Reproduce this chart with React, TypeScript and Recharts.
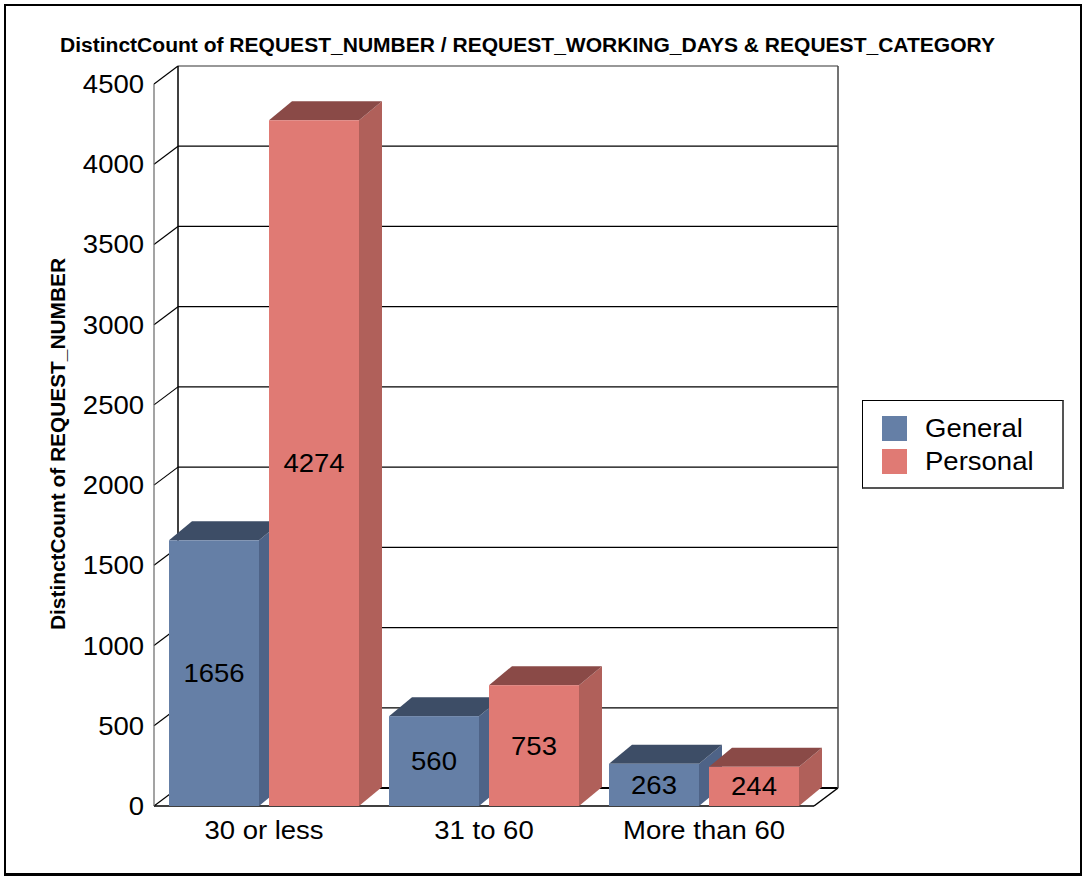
import React from 'react';
import { BarChart, Bar, XAxis, YAxis, CartesianGrid, LabelList, Legend } from 'recharts';

const categories = ['30 or less', '31 to 60', 'More than 60'];
const generalValues = [1656, 560, 263];
const personalValues = [4274, 753, 244];
const yTicks = [0, 500, 1000, 1500, 2000, 2500, 3000, 3500, 4000, 4500];
const seriesNames = ['General', 'Personal'];
const chartTitle = 'DistinctCount of REQUEST_NUMBER / REQUEST_WORKING_DAYS & REQUEST_CATEGORY';
const yAxisTitle = 'DistinctCount of REQUEST_NUMBER';

const data = categories.map((c, i) => ({
  category: c,
  [seriesNames[0]]: generalValues[i],
  [seriesNames[1]]: personalValues[i],
}));

const FONT = '"Liberation Sans", Arial, Helvetica, sans-serif';
const STRETCH = 1.1;
const WALL_DX = 24;
const WALL_DY = 18;
const BAR_DX = 23;
const BAR_DY = 19;

const palette = {
  General: { front: '#657FA6', top: '#3D4D66', side: '#4E6387' },
  Personal: { front: '#E07A74', top: '#8A4A47', side: '#B0605A' },
};

const SText = ({ x, y, anchor, size, children }: any) => (
  <text
    transform={`translate(${x},${y}) scale(${STRETCH},1)`}
    textAnchor={anchor}
    fontSize={size}
    fontFamily={FONT}
    fill="#000"
  >
    {children}
  </text>
);

const makeBox = (colors: { front: string; top: string; side: string }) => (p: any) => {
  const { x, y, width, height } = p;
  if (width == null || height == null) return <g />;
  const dx = BAR_DX;
  const dy = BAR_DY;
  const topPts = `${x},${y} ${x + dx},${y - dy} ${x + width + dx},${y - dy} ${x + width},${y}`;
  const sidePts = `${x + width},${y} ${x + width + dx},${y - dy} ${x + width + dx},${y + height - dy} ${x + width},${y + height}`;
  return (
    <g>
      <polygon points={sidePts} fill={colors.side} />
      <polygon points={topPts} fill={colors.top} />
      <rect x={x} y={y} width={width} height={height} fill={colors.front} />
    </g>
  );
};

const BarValueLabel = (p: any) => {
  const { x, y, width, height, value } = p;
  if (x == null || width == null) return null;
  return (
    <SText x={x + width / 2} y={y + height / 2 + 9} anchor="middle" size={25}>
      {value}
    </SText>
  );
};

const gridLine = (p: any) => {
  const { x1, y1, x2, y, height } = p;
  const bottom = y + height;
  const isTop = Math.abs(y1 - y) < 0.5;
  const isBottom = Math.abs(y1 - bottom) < 0.5;
  return (
    <g key={p.key}>
      <line x1={x1 + WALL_DX} y1={y1 - WALL_DY} x2={x2 + WALL_DX} y2={y1 - WALL_DY} stroke={isTop ? '#333' : '#000'} strokeWidth={1.2} />
      <line x1={x1} y1={y1} x2={x1 + WALL_DX} y2={y1 - WALL_DY} stroke="#000" strokeWidth={1.2} />
      {isTop && (
        <g>
          <line x1={x1} y1={y1} x2={x1} y2={bottom} stroke="#666" strokeWidth={1.2} />
          <line x1={x1 + WALL_DX} y1={y1 - WALL_DY} x2={x1 + WALL_DX} y2={bottom - WALL_DY} stroke="#000" strokeWidth={1.5} />
          <line x1={x2 + WALL_DX} y1={y1 - WALL_DY} x2={x2 + WALL_DX} y2={bottom - WALL_DY} stroke="#444" strokeWidth={1.5} />
        </g>
      )}
      {isBottom && (
        <g>
          <line x1={x1} y1={y1} x2={x2} y2={y1} stroke="#000" strokeWidth={1.5} />
          <line x1={x2} y1={y1} x2={x2 + WALL_DX} y2={y1 - WALL_DY} stroke="#000" strokeWidth={1.5} />
          <line x1={x1 + WALL_DX} y1={y1 - WALL_DY} x2={x2 + WALL_DX} y2={y1 - WALL_DY} stroke="#000" strokeWidth={2} />
        </g>
      )}
    </g>
  );
};

const YTick = (p: any) => (
  <SText x={p.x} y={p.y + 9} anchor="end" size={25}>
    {p.payload.value}
  </SText>
);

const XTick = (p: any) => (
  <SText x={p.x} y={p.y + 33} anchor="middle" size={25}>
    {p.payload.value}
  </SText>
);

const LegendBox = (props: any) => {
  const payload = props.payload && props.payload.length
    ? props.payload
    : seriesNames.map((n) => ({ value: n, color: (palette as any)[n].front }));
  return (
    <div
      style={{
        position: 'relative',
        width: 202,
        height: 89,
        boxSizing: 'border-box',
        border: '1px solid #000',
        borderRight: '2px solid #555',
        borderBottom: '2px solid #555',
        background: '#fff',
        fontFamily: FONT,
      }}
    >
      {payload.map((e: any, i: number) => (
        <div key={e.value}>
          <div style={{ position: 'absolute', left: 19, top: 15 + i * 33, width: 25, height: 25, background: e.color }} />
          <div
            style={{
              position: 'absolute',
              left: 62,
              top: 12 + i * 33,
              fontSize: 25,
              lineHeight: '30px',
              color: '#000',
              whiteSpace: 'nowrap',
              transform: `scaleX(${STRETCH})`,
              transformOrigin: 'left center',
            }}
          >
            {e.value}
          </div>
        </div>
      ))}
    </div>
  );
};

export default function App() {
  return (
    <div style={{ position: 'absolute', left: 0, top: 0, width: 1085, height: 877, background: '#fff', fontFamily: FONT }}>
      <BarChart
        width={1085}
        height={877}
        data={data}
        margin={{ top: 84, right: 271, bottom: 41, left: 94 }}
        barGap={10}
        barSize={90}
      >
        <CartesianGrid horizontal={gridLine} vertical={false} />
        <XAxis dataKey="category" axisLine={false} tickLine={false} tickSize={0} tickMargin={0} tick={<XTick />} interval={0} height={30} />
        <YAxis
          domain={[0, 4500]}
          ticks={yTicks}
          interval={0}
          axisLine={false}
          tickLine={false}
          tickSize={0}
          tickMargin={10}
          tick={<YTick />}
          width={60}
          allowDataOverflow
        />
        <Legend
          layout="vertical"
          align="center"
          verticalAlign="middle"
          content={<LegendBox />}
          wrapperStyle={{ position: 'absolute', left: 862, top: 400, width: 202, height: 89 }}
        />
        {seriesNames.map((name) => (
          <Bar
            key={name}
            dataKey={name}
            name={name}
            fill={(palette as any)[name].front}
            isAnimationActive={false}
            shape={makeBox((palette as any)[name])}
          >
            <LabelList dataKey={name} content={<BarValueLabel />} />
          </Bar>
        ))}
      </BarChart>
      <svg width={1085} height={877} style={{ position: 'absolute', left: 0, top: 0, pointerEvents: 'none' }}>
        <text x={60} y={52} fontSize={20} fontWeight="bold" fontFamily={FONT} fill="#000" textLength={935} lengthAdjust="spacingAndGlyphs">
          {chartTitle}
        </text>
        <text
          transform="translate(65,444) rotate(-90)"
          textAnchor="middle"
          fontSize={19.5}
          fontWeight="bold"
          fontFamily={FONT}
          fill="#000"
          textLength={372}
          lengthAdjust="spacingAndGlyphs"
        >
          {yAxisTitle}
        </text>
      </svg>
      <div style={{ position: 'absolute', left: 4, top: 4, width: 1078, height: 872, border: '2px solid #000', borderBottomWidth: 3, boxSizing: 'border-box', pointerEvents: 'none' }} />
    </div>
  );
}
